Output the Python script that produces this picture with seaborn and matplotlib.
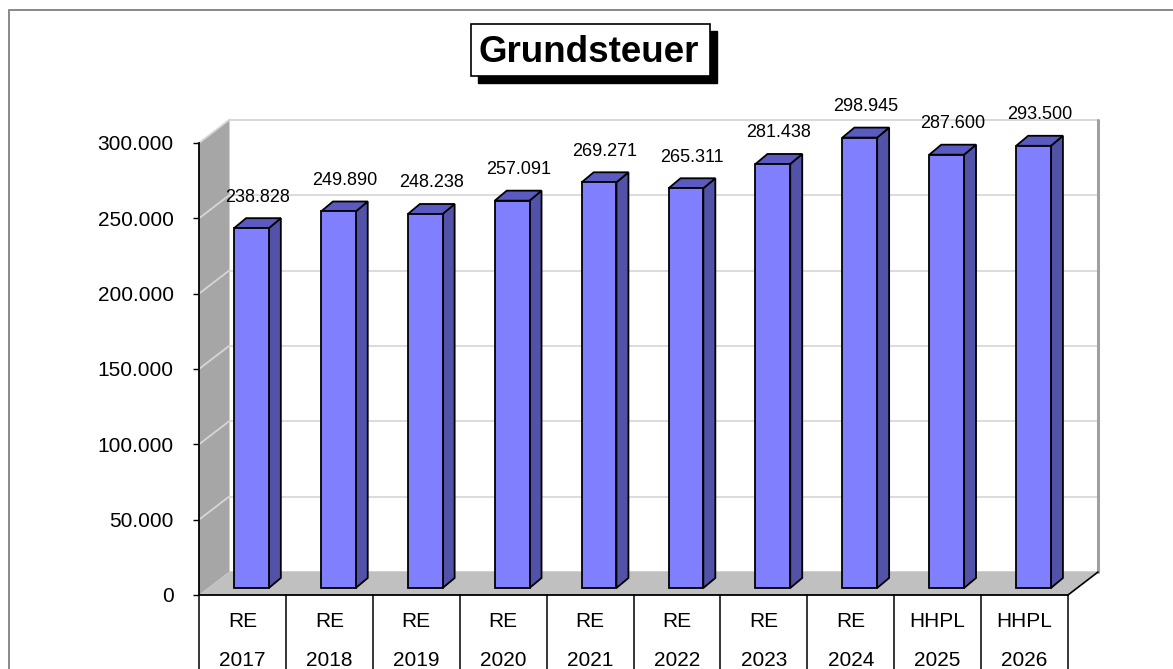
import numpy as np
import pandas as pd
import matplotlib
matplotlib.use('Agg')
import matplotlib.pyplot as plt
import seaborn as sns
from matplotlib.patches import Polygon, Rectangle
from matplotlib.ticker import FuncFormatter

# Data
kinds = ['RE', 'RE', 'RE', 'RE', 'RE', 'RE', 'RE', 'RE', 'HHPL', 'HHPL']
years = ['2017', '2018', '2019', '2020', '2021', '2022', '2023', '2024', '2025', '2026']
values = [238828, 249890, 248238, 257091, 269271, 265311, 281438, 298945, 287600, 293500]
y_ticks = [0, 50000, 100000, 150000, 200000, 250000, 300000]

df = pd.DataFrame({'label': [k + '\n' + y for k, y in zip(kinds, years)], 'value': values})

def de_fmt(v, pos=None):
    return f'{v:,.0f}'.replace(',', '.')

sns.set_theme(style='white')
plt.rcParams['font.family'] = ['Liberation Sans', 'DejaVu Sans']

W, H = 1173, 669
fig = plt.figure(figsize=(W / 100, H / 100), dpi=100)
ax = fig.add_axes([199 / W, (H - 595) / H, 869 / W, 452 / H])

sns.barplot(data=df, x='label', y='value', color='#8080FF', saturation=1,
            edgecolor='black', linewidth=1.3, width=0.4, ax=ax, zorder=5)
ax.set_xlim(-0.5, 9.5)
ax.set_ylim(0, 300000)

# pixel -> data units
ux = 10 / 869
uy = 300000 / 452
wall_dx, wall_dy = 30 * ux, 23 * uy

# side wall, floor, back wall
side = Polygon([(-0.5, 0), (-0.5 + wall_dx, wall_dy), (-0.5 + wall_dx, 300000 + wall_dy), (-0.5, 300000)],
               closed=True, fc='#A6A6A6', ec='none', zorder=1, clip_on=False)
floor = Polygon([(-0.5, 0), (9.5, 0), (9.5 + wall_dx, wall_dy), (-0.5 + wall_dx, wall_dy)],
                closed=True, fc='#C0C0C0', ec='none', zorder=2, clip_on=False)
back = Rectangle((-0.5 + wall_dx, wall_dy), 10, 300000, fc='white', ec='#C8C8C8', lw=1.2,
                 zorder=0.5, clip_on=False)
for p in (back, side, floor):
    ax.add_patch(p)
ax.plot([9.5 + wall_dx, 9.5 + wall_dx], [wall_dy, 300000 + wall_dy], color='#A0A0A0', lw=2.2,
        zorder=0.8, clip_on=False)
ax.plot([9.5, 9.5 + wall_dx], [0, wall_dy], color='black', lw=1.2, zorder=3, clip_on=False)

for t in y_ticks[1:]:
    ax.plot([-0.5 + wall_dx, 9.5 + wall_dx], [t + wall_dy, t + wall_dy], color='#D9D9D9', lw=1.3,
            zorder=0.6, clip_on=False)
    ax.plot([-0.5, -0.5 + wall_dx], [t, t + wall_dy], color='#D6D6D6', lw=1.3, zorder=1.5, clip_on=False)

# 3D bar faces
bar_dx, bar_dy = 9 * ux, 7 * uy
depth_x, depth_y = 12 * ux, 10 * uy
for bar, v in zip(ax.patches[:len(values)], values):
    bar.set_x(bar.get_x() + bar_dx)
    bar.set_y(bar_dy)
    bar.set_clip_on(False)
    x0, x1 = bar.get_x(), bar.get_x() + bar.get_width()
    y0, y1 = bar_dy, bar_dy + bar.get_height()
    ax.add_patch(Polygon([(x1, y0), (x1 + depth_x, y0 + depth_y), (x1 + depth_x, y1 + depth_y), (x1, y1)],
                         closed=True, fc='#5252A8', ec='black', lw=1.3, zorder=4.9, clip_on=False))
    ax.add_patch(Polygon([(x0, y1), (x1, y1), (x1 + depth_x, y1 + depth_y), (x0 + depth_x, y1 + depth_y)],
                         closed=True, fc='#5A5AC0', ec='black', lw=1.3, zorder=4.9, clip_on=False))
    ax.text((x0 + x1) / 2 + 6 * ux, y1 + 31 * uy, de_fmt(v), ha='center', va='center',
            fontsize=13, color='black', zorder=6, clip_on=False)

# axes styling
ax.set_xlabel('')
ax.set_ylabel('')
ax.set_yticks(y_ticks)
ax.yaxis.set_major_formatter(FuncFormatter(de_fmt))
ax.tick_params(axis='y', left=True, length=6 * 0.72, width=1, color='black', pad=14,
               labelsize=15, labelcolor='black')
ax.tick_params(axis='x', bottom=False, length=0, pad=12, labelsize=15, labelcolor='black')
for lab in ax.get_xticklabels():
    lab.set_linespacing(2.35)
ax.set_facecolor('none')
ax.grid(False)
for s in ('top', 'right'):
    ax.spines[s].set_visible(False)
for s in ('left', 'bottom'):
    ax.spines[s].set_color('black')
    ax.spines[s].set_linewidth(1.3)
    ax.spines[s].set_zorder(3)

# category table lines
trans = ax.get_xaxis_transform()
for xb in np.arange(-0.5, 10, 1):
    ax.plot([xb, xb], [0, -0.3], color='black', lw=1.1, transform=trans, clip_on=False, zorder=3)

# outer frame
fig.add_artist(Rectangle((9 / W, -0.1), 1.2, (H - 10) / H + 0.1, transform=fig.transFigure,
                         fill=False, ec='#808080', lw=1.3))

# title box with shadow
fig.add_artist(Rectangle((478 / W, (H - 83) / H), 239 / W, 52 / H, transform=fig.transFigure,
                         fc='black', ec='black', lw=1))
fig.add_artist(Rectangle((471 / W, (H - 76) / H), 239 / W, 52 / H, transform=fig.transFigure,
                         fc='white', ec='black', lw=1.2))
fig.text(589 / W, (H - 53) / H, 'Grundsteuer', ha='center', va='center', fontsize=26.5,
         fontweight='bold', color='black')

fig.savefig('out.png', dpi=100, facecolor='white')
